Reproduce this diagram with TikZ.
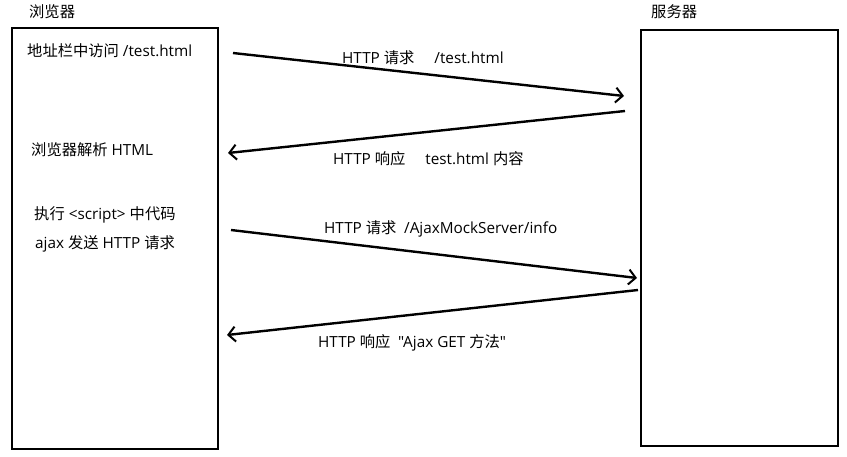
\documentclass[tikz,border=0pt]{standalone}
\usepackage{fontspec}
\setmainfont[Ligatures=TeXOff]{Open Sans}
\newfontfamily\cjkf{Noto Sans CJK SC}
\newcommand{\zh}[1]{{\cjkf #1}}
\usetikzlibrary{arrows.meta}
\tikzset{
  box/.style={draw=black, line width=2pt, inner sep=0pt},
  lbl/.style={anchor=west, inner sep=0pt, font=\fontsize{15.3}{18}\selectfont},
  msg/.style={line width=2.4pt, -{Straight Barb[length=7pt,width=15pt,line width=2pt]}},
}
\begin{document}
\begin{tikzpicture}[x=1pt,y=-1pt]
\useasboundingbox (0,0) rectangle (847,456);
% boxes
\draw[box] (12,28) rectangle (218,449);
\node[inner sep=0pt] (browser) at (115,238) {};
\draw[box] (641,30) rectangle (838,446);
\node[inner sep=0pt] (server) at (740,238) {};
% titles
\node[lbl] (tb) at (29,12) {\zh{浏览器}};
\node[lbl] (ts) at (651,12) {\zh{服务器}};
% left texts
\node[lbl] (l1) at (27,51) {\zh{地址栏中访问} /test.html};
\node[lbl] (l2) at (31,150) {\zh{浏览器解析} HTML};
\node[lbl] (l3) at (34,215) {\zh{执行} <script> \zh{中代码}};
\node[lbl] (l4) at (35,244) {ajax \zh{发送} HTTP \zh{请求}};
% arrow ends
\coordinate (a1s) at (233,53);  \coordinate (a1e) at (624,96);
\coordinate (a2s) at (625,111); \coordinate (a2e) at (228,153);
\coordinate (a3s) at (231,230); \coordinate (a3e) at (637,278);
\coordinate (a4s) at (638,290); \coordinate (a4e) at (227,335);
\draw[msg] (a1s) -- (a1e);
\draw[msg] (a2s) -- (a2e);
\draw[msg] (a3s) -- (a3e);
\draw[msg] (a4s) -- (a4e);
% message labels
\node[lbl] (m1) at (342,58) {HTTP \zh{请求}\hspace{1.3em}/test.html};
\node[lbl] (m2) at (333,159) {HTTP \zh{响应}\hspace{1.3em}test.html \zh{内容}};
\node[lbl] (m3) at (324,229) {HTTP \zh{请求}\hspace{0.5em}/AjaxMockServer/info};
\node[lbl] (m4) at (318,343) {HTTP \zh{响应}\hspace{0.5em}"Ajax GET \zh{方法}"};
\end{tikzpicture}
\end{document}
